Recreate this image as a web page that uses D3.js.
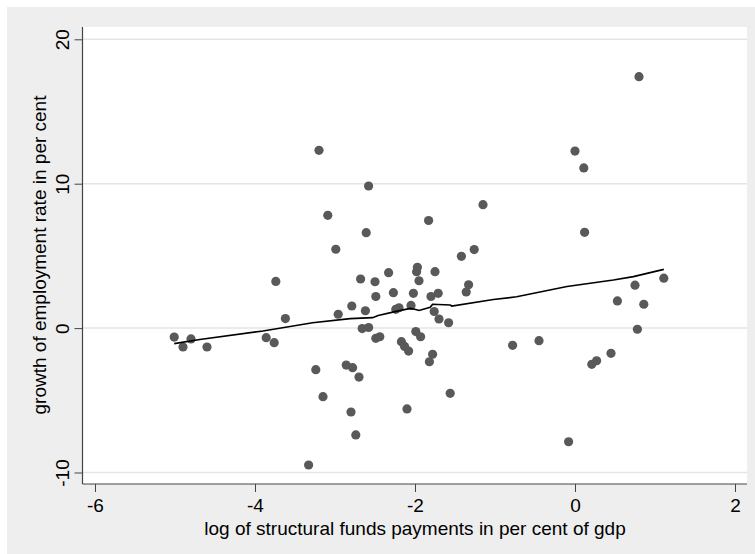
<!DOCTYPE html>
<html>
<head>
<meta charset="utf-8">
<title>Employment growth vs structural funds</title>
<script src="https://cdn.jsdelivr.net/npm/d3@7"></script>
<style>
  body { margin: 0; background: #ffffff; }
  text { font-family: "Liberation Sans", Arial, sans-serif; fill: #000; }
</style>
</head>
<body>
<svg width="755" height="554"></svg>
<script>
// log of structural funds payments (x) and employment growth (y)
const fundsLog = [
  -5.01, -4.90, -4.80, -4.60, -3.86, -3.76, -3.62, -3.74, -3.24, -3.15,
  -3.33, -2.96, -2.86, -2.78, -2.70, -2.80, -2.74, -2.79, -3.20, -3.09,
  -2.99, -2.58, -2.61, -2.68, -2.62, -2.66, -2.58, -2.50, -2.33, -1.97,
  -1.98, -1.95, -1.75, -1.33, -1.36, -2.49, -2.27, -2.02, -1.80, -1.71,
  -1.15, -1.83, -1.26, -1.42, -2.24, -2.20, -2.05, -1.76, -1.70, -1.58,
  -2.49, -2.44, -1.99, -1.93, -2.17, -2.13, -2.08, -1.78, -1.82, -1.56,
  -2.10, -0.78, -0.45, -0.08, 0.21, 0.27, 0.45, 0.53, 0.75, 0.86,
  0.78, 1.11, 0.00, 0.11, 0.12, 0.80
];
const emplGrowth = [
  -0.62, -1.31, -0.75, -1.31, -0.66, -1.01, 0.66, 3.23, -2.88, -4.75,
  -9.48, 0.96, -2.56, -2.74, -3.39, -5.81, -7.40, 1.53, 12.31, 7.81,
  5.46, 9.84, 6.61, 3.40, 1.20, -0.03, 0.04, 3.21, 3.84, 4.21,
  3.91, 3.28, 3.91, 3.00, 2.50, 2.19, 2.45, 2.41, 2.19, 2.41,
  8.55, 7.45, 5.44, 4.97, 1.30, 1.41, 1.57, 1.15, 0.63, 0.37,
  -0.71, -0.60, -0.24, -0.60, -0.94, -1.27, -1.59, -1.81, -2.33, -4.52,
  -5.60, -1.19, -0.87, -7.87, -2.51, -2.26, -1.75, 1.88, 2.97, 1.65,
  -0.08, 3.46, 12.26, 11.09, 6.63, 17.41
];

// lowess smooth
const smoothX = [-5.01, -4.69, -3.90, -3.28, -2.81, -2.53, -2.46, -2.25, -2.06, -1.99,
  -1.95, -1.81, -1.78, -1.56, -1.54, -1.02, -0.73, -0.10, 0.48, 0.73, 1.11];
const smoothY = [-1.07, -0.79, -0.20, 0.37, 0.66, 0.72, 0.87, 1.14, 1.36, 1.29,
  1.22, 1.44, 1.65, 1.60, 1.53, 1.98, 2.17, 2.88, 3.33, 3.56, 4.07];

const xTicks = [-6, -4, -2, 0, 2];
const yTicks = [-10, 0, 10, 20];
const xTitle = "log of structural funds payments in per cent of gdp";
const yTitle = "growth of employment rate in per cent";

const svg = d3.select("svg");
const plot = { left: 82.5, top: 27, right: 747, bottom: 484 };
const fontSize = 19;
const hyphen = d => String(d); // plain hyphen minus, like the original

// outer background
svg.append("rect")
  .attr("x", 7).attr("y", 7)
  .attr("width", 755 - 7).attr("height", 554 - 7)
  .attr("fill", "#eeeeee");
svg.append("rect")
  .attr("x", plot.left).attr("y", plot.top)
  .attr("width", plot.right - plot.left).attr("height", plot.bottom - plot.top)
  .attr("fill", "#ffffff");

const x = d3.scaleLinear().domain([-6, 2]).range([95, 735]);
const y = d3.scaleLinear().domain([-10, 20]).range([472.5, 39.3]);

// grid lines
svg.append("g").selectAll("line").data(yTicks).enter().append("line")
  .attr("x1", plot.left).attr("x2", plot.right)
  .attr("y1", d => y(d)).attr("y2", d => y(d))
  .attr("stroke", "#e5e5e5").attr("stroke-width", 1.5);

// points
svg.append("g").selectAll("circle").data(fundsLog).enter().append("circle")
  .attr("cx", d => x(d))
  .attr("cy", (d, i) => y(emplGrowth[i]))
  .attr("r", 4.6)
  .attr("fill", "#595959");

// smooth line
const line = d3.line().x(d => x(d[0])).y(d => y(d[1]));
svg.append("path")
  .datum(smoothX.map((v, i) => [v, smoothY[i]]))
  .attr("d", line)
  .attr("fill", "none")
  .attr("stroke", "#000")
  .attr("stroke-width", 1.7);

// x axis
const xAxis = svg.append("g").attr("transform", `translate(0,${plot.bottom})`)
  .call(d3.axisBottom(x).tickValues(xTicks).tickSize(8).tickPadding(7).tickFormat(hyphen));
xAxis.select(".domain").attr("d", `M${plot.left},0H${plot.right}`).attr("stroke", "#444").attr("stroke-width", 1.2);
xAxis.selectAll(".tick line").attr("stroke", "#444");
xAxis.selectAll(".tick text").attr("font-size", fontSize).attr("fill", "#000");

// y axis
const yAxis = svg.append("g").attr("transform", `translate(${plot.left},0)`)
  .call(d3.axisLeft(y).tickValues(yTicks).tickSize(8).tickFormat(hyphen));
yAxis.select(".domain").attr("d", `M0,${plot.top}V${plot.bottom}`).attr("stroke", "#444").attr("stroke-width", 1.2);
yAxis.selectAll(".tick line").attr("stroke", "#444");
yAxis.selectAll(".tick text")
  .attr("font-size", fontSize).attr("fill", "#000")
  .attr("x", null).attr("dy", null)
  .attr("text-anchor", "middle")
  .attr("transform", "translate(-14,0) rotate(-90)");

// titles
svg.append("text")
  .attr("x", 415).attr("y", 535)
  .attr("text-anchor", "middle")
  .attr("font-size", fontSize)
  .text(xTitle);
svg.append("text")
  .attr("transform", "translate(46,255) rotate(-90)")
  .attr("text-anchor", "middle")
  .attr("font-size", fontSize)
  .text(yTitle);
</script>
</body>
</html>
